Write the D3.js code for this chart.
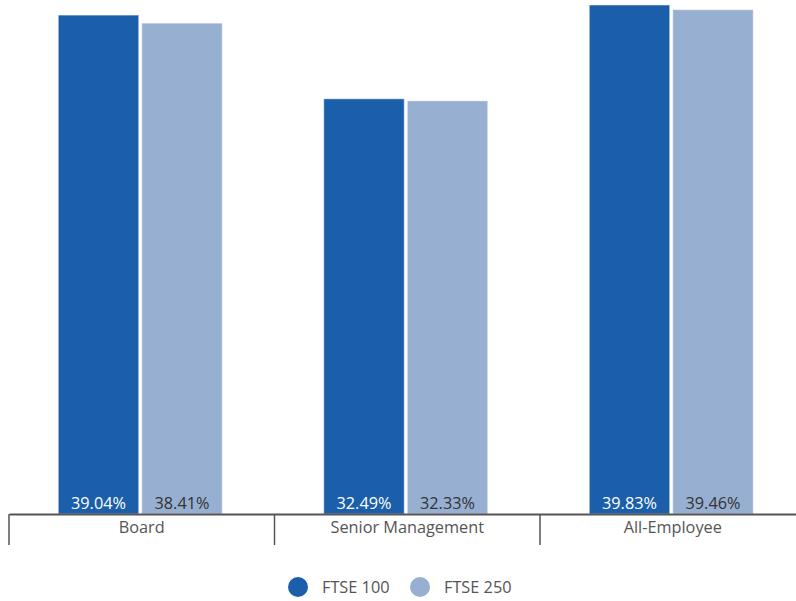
<!DOCTYPE html>
<html><head><meta charset="utf-8">
<script src="https://cdn.jsdelivr.net/npm/d3@7"></script>
<style>body{margin:0;background:#fff}svg{display:block}text{font-family:"Open Sans",Lato,sans-serif}</style>
</head><body>
<script>
const categories = ["Board", "Senior Management", "All-Employee"];
const seriesNames = ["FTSE 100", "FTSE 250"];
const ftse100 = [39.04, 32.49, 39.83];
const ftse250 = [38.41, 32.33, 39.46];
const colors = ["#1b5eaa", "#97afd1"];
const labelColors = ["#ffffff", "#333333"];

const W = 796, H = 601;
const svg = d3.select("body").append("svg").attr("width", W).attr("height", H);
const baseY = 514;
const x = d3.scaleBand().domain(categories).range([9, 9 + 265.5 * 3]).paddingInner(0).paddingOuter(0);
const y = d3.scaleLinear().domain([0, 40.22]).range([baseY, 0]);
const groupW = 164;
const xs = d3.scaleBand().domain(seriesNames).range([0, groupW]).paddingInner(3 / 83);

const data = [ftse100, ftse250];
categories.forEach((c, i) => {
  const g = svg.append("g").attr("transform", `translate(${x(c) + x.bandwidth() / 2 - groupW / 2 - 1.5},0)`);
  seriesNames.forEach((s, j) => {
    const v = data[j][i];
    g.append("rect").attr("x", xs(s)).attr("y", y(v)).attr("width", xs.bandwidth()).attr("height", baseY - y(v))
      .attr("fill", colors[j]).attr("stroke", "rgba(255,255,255,0.5)").attr("stroke-width", 1);
    g.append("text").attr("x", xs(s) + xs.bandwidth() / 2).attr("y", baseY - 5)
      .attr("text-anchor", "middle").attr("font-size", 16.3).attr("fill", labelColors[j])
      .text(v.toFixed(2) + "%");
  });
});

// axis
const axis = svg.append("g").attr("transform", `translate(0,${baseY})`)
  .call(d3.axisBottom(x).tickSize(0).tickPadding(7));
axis.select(".domain").attr("stroke", "#555").attr("stroke-width", 2);
axis.selectAll(".tick text").attr("font-size", 16.3).attr("fill", "#555").attr("font-family", "'Open Sans', Lato, sans-serif");
const seps = [0, 1, 2, 3].map(k => 9 + 265.5 * k);
svg.selectAll("line.sep").data(seps).enter().append("line").attr("class", "sep")
  .attr("x1", d => d).attr("x2", d => d).attr("y1", baseY).attr("y2", 545)
  .attr("stroke", "#555").attr("stroke-width", 1.5);

// legend
const lg = svg.append("g");
const legX = [298, 420];
seriesNames.forEach((s, j) => {
  lg.append("circle").attr("cx", legX[j]).attr("cy", 587).attr("r", 10).attr("fill", colors[j]);
  lg.append("text").attr("x", legX[j] + 24).attr("y", 593).attr("font-size", 16.3).attr("fill", "#555").text(s);
});
</script>
</body></html>
